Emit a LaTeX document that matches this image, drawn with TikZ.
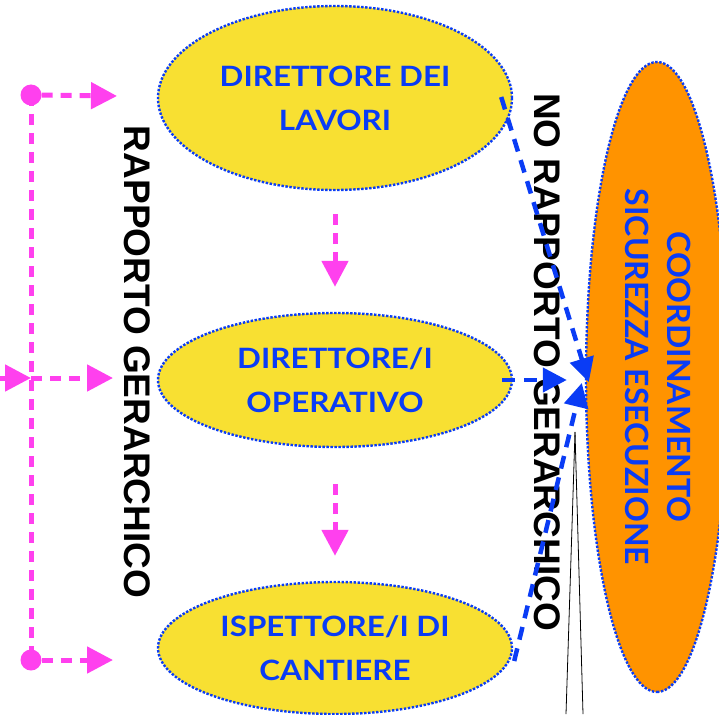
\documentclass[tikz,border=0pt]{standalone}
\usepackage{fontspec}
\setmainfont{Liberation Sans}
\newfontfamily\elfont{Lato}[FakeStretch=1.12]
\newfontfamily\orfont{Lato}
\usetikzlibrary{shapes.geometric,arrows.meta}
\definecolor{pinkc}{RGB}{255,64,238}
\definecolor{bluec}{RGB}{10,60,245}
\definecolor{yellowc}{RGB}{248,224,50}
\definecolor{orangec}{RGB}{255,147,0}
\begin{document}
\begin{tikzpicture}[x=1pt,y=-1pt,
  dotborder/.style={draw=bluec, line width=2.4pt, dash pattern=on 2.4pt off 1.6pt},
  yell/.style={ellipse, dotborder, fill=yellowc, minimum width=354pt, inner sep=0pt,
     text=bluec, align=center, font=\elfont\bfseries\fontsize{28}{44}\selectfont},
  orell/.style={ellipse, dotborder, fill=orangec, minimum width=630pt, minimum height=142pt,
     inner sep=0pt, rotate=-90, text=bluec, align=center, font=\orfont\bfseries\fontsize{32}{42}\selectfont},
  bigtext/.style={rotate=-90, inner sep=0pt, font=\bfseries\fontsize{37}{40}\selectfont},
  pinkline/.style={draw=pinkc, line width=5pt, dash pattern=on 11pt off 8pt},
  pinkarrow/.style={pinkline, -{Triangle[length=26pt,width=26pt]}},
  pinkdot/.style={circle, fill=pinkc, minimum size=21pt, inner sep=0pt},
  bluearrow/.style={draw=bluec, line width=4.5pt, dash pattern=on 13pt off 9pt,
     -{Triangle[length=24pt,width=24pt]}},
  callout/.style={draw=black, line width=0.8pt}
]
\useasboundingbox (0,0) rectangle (719,714);

% ellipses
\node[yell, minimum height=184pt] (dl) at (335,98) {DIRETTORE DEI\\LAVORI};
\node[yell, minimum height=134pt] (do) at (335,380) {DIRETTORE/I\\OPERATIVO};
\node[yell, minimum height=132pt] (ic) at (335,648) {ISPETTORE/I DI\\CANTIERE};
\node[orell] (cse) at (657,377) {\raisebox{3pt}{COORDINAMENTO}\\\raisebox{3pt}{SICUREZZA ESECUZIONE}};

% black rotated labels
\node[bigtext] (rg) at (137,362) {RAPPORTO GERARCHICO};
\node[bigtext] (nrg) at (547,362) {NO RAPPORTO GERARCHICO};

% thin callout lines
\coordinate (apex) at (575,432);
\coordinate (legl) at (566,714);
\coordinate (legr) at (583,714);
\draw[callout] (apex) -- (legl);
\draw[callout] (apex) -- (legr);

% pink hierarchy
\node[pinkdot] (p1) at (31,95) {};
\node[pinkdot] (p3) at (31,660) {};
\coordinate (p2) at (31,378);
\coordinate (lin) at (0,378);
\coordinate (t1) at (117,96);
\coordinate (t2) at (113,378);
\coordinate (t3) at (113,660);
\draw[pinkline] (p1.center) -- (p3.center);
\draw[pinkarrow] (p1) -- (t1);
\draw[pinkarrow] (p2) -- (t2);
\draw[pinkarrow] (p3) -- (t3);
\draw[pinkarrow] (lin) -- (p2);
\draw[pinkarrow] ([yshift=-23pt]dl.south) -- ([yshift=25pt]do.north);
\draw[pinkarrow] ([yshift=-36pt]do.south) -- ([yshift=25pt]ic.north);

% blue arrows
\draw[bluearrow] ([xshift=-12pt,yshift=1pt]dl.east) -- ([xshift=4pt,yshift=-5pt]cse.south);
\draw[bluearrow] ([xshift=-11pt]do.east) -- ([xshift=-18pt,yshift=-3pt]cse.south);
\draw[bluearrow] ([xshift=1pt,yshift=-13pt]ic.east) -- ([xshift=-3pt,yshift=-6pt]cse.south);
\end{tikzpicture}
\end{document}
